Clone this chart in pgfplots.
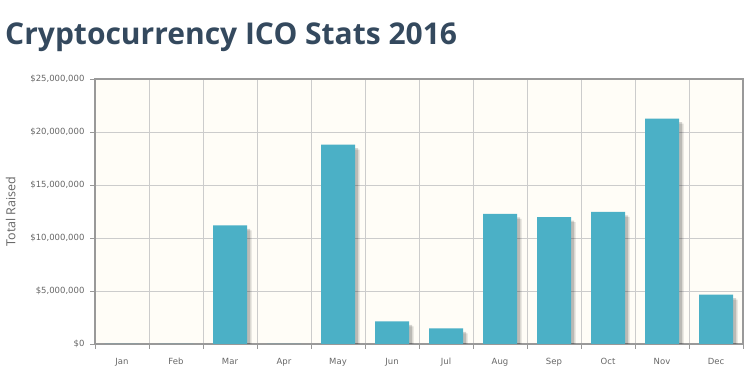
\documentclass[border=0pt]{standalone}
\usepackage{fontspec}
\setmainfont{DejaVu Sans}
\newfontfamily\opensans{Open Sans}
\usepackage{pgfplots}
\pgfplotsset{compat=1.18}
\definecolor{titleblue}{HTML}{34495E}
\definecolor{barteal}{HTML}{4BB0C6}
\definecolor{cream}{HTML}{FFFDF7}
\definecolor{gridgray}{HTML}{CCCCCC}
\definecolor{axisgray}{HTML}{999999}
\definecolor{labelgray}{HTML}{666666}
\pgfplotstableread{
x val
0 0
1 0
2 11180000
3 0
4 18810000
5 2130000
6 1470000
7 12280000
8 11970000
9 12470000
10 21260000
11 4650000
}\icodata
\begin{document}
\begin{tikzpicture}[x=1pt,y=1pt]
\useasboundingbox (0,0) rectangle (753,374);
\node[anchor=base west, inner sep=0pt, text=titleblue, font=\opensans\bfseries\fontsize{30}{36}\selectfont] at (5,329) {Cryptocurrency ICO Stats 2016};
\begin{axis}[
  at={(95pt,30pt)}, anchor=south west,
  scale only axis, width=648pt, height=265pt,
  xmin=-0.5, xmax=11.5, ymin=0, ymax=25000000,
  axis background/.style={fill=cream},
  axis line style={axisgray, line width=1.5pt},
  xtick pos=bottom, ytick pos=left,
  xtick={-0.5,0.5,...,11.5},
  xticklabels={},
  extra x ticks={0,...,11},
  extra x tick labels={Jan,Feb,Mar,Apr,May,Jun,Jul,Aug,Sep,Oct,Nov,Dec},
  extra x tick style={major tick length=0pt, grid=none, xticklabel style={yshift=-11pt}},
  xmajorgrids=true,
  major tick length=5pt,
  tick align=outside,
  tick style={axisgray, line width=0.8pt},
  grid style={gridgray, line width=0.6pt},
  ytick={0,5000000,10000000,15000000,20000000,25000000},
  yticklabels={{\$0},{\$5,000,000},{\$10,000,000},{\$15,000,000},{\$20,000,000},{\$25,000,000}},
  ymajorgrids=true,
  scaled y ticks=false,
  tick label style={font=\fontsize{8.5}{10}\selectfont, text=labelgray},
  yticklabel style={xshift=-2pt},
  ylabel={Total Raised},
  ylabel style={at={(axis description cs:-0.13,0.5)}, anchor=center, rotate=0, font=\opensans\fontsize{12.5}{14}\selectfont, text=labelgray},
]
\addplot[ybar, bar width=34pt, bar shift=4.5pt, yshift=-5pt, fill=black, fill opacity=0.12, draw=none] table[x=x,y=val]{\icodata};
\addplot[ybar, bar width=34pt, bar shift=3pt, yshift=-3.5pt, fill=black, fill opacity=0.16, draw=none] table[x=x,y=val]{\icodata};
\addplot[ybar, bar width=34pt, bar shift=0pt, fill=barteal, draw=none] table[x=x,y=val]{\icodata};
\end{axis}
\end{tikzpicture}
\end{document}
